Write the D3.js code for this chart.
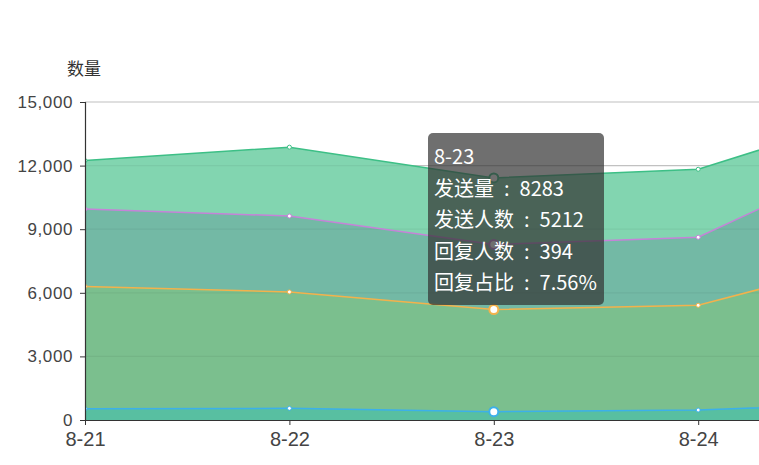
<!DOCTYPE html>
<html>
<head>
<meta charset="utf-8">
<script src="https://cdn.jsdelivr.net/npm/d3@7/dist/d3.min.js"></script>
<style>
html,body{margin:0;padding:0;background:#fff;}
svg{display:block;}
</style>
</head>
<body>
<svg id="chart" width="759" height="465"></svg>
<script>
const categories = ['8-21', '8-22', '8-23', '8-24', '8-25'];
const sendCount = [9950, 9620, 8283, 8620, 13100];      // 发送量
const sendPeople = [6300, 6040, 5212, 5410, 7940];      // 发送人数
const replyPeople = [530, 550, 394, 470, 830];          // 回复人数
const replyRate = [8.10, 8.52, 7.56, 7.83, 9.84];       // 回复占比 (%)
const yTicks = [0, 3000, 6000, 9000, 12000, 15000];
const hoverIndex = 2;

const svg = d3.select('#chart');
const W = 759, H = 465;
const gLeft = 85, gTop = 102, gBottom = 420;
const step = 204.4;

const x = d3.scalePoint().domain(categories).range([gLeft, gLeft + step * (categories.length - 1)]);
const y = d3.scaleLinear().domain([0, 15000]).range([gBottom, gTop]);
const yPct = d3.scaleLinear().domain([0, 9.93]).range([gBottom, gTop]);

svg.append('defs').append('clipPath').attr('id', 'clip')
  .append('rect').attr('x', gLeft).attr('y', 0).attr('width', W - gLeft).attr('height', gBottom);

// grid lines (beneath)
const grid = svg.append('g');
grid.selectAll('line').data(yTicks.filter(d => d > 0)).join('line')
  .attr('x1', gLeft).attr('x2', W).attr('y1', d => y(d)).attr('y2', d => y(d))
  .attr('stroke', '#cccccc').attr('stroke-width', 1.2);

const series = [
  {name: '回复占比', vals: replyRate, scale: yPct, line: '#3dbf86', fill: '#82d5b0'},
  {name: '发送量', vals: sendCount, scale: y, line: '#c583d8', fill: '#73b9a5'},
  {name: '发送人数', vals: sendPeople, scale: y, line: '#f3b24c', fill: '#7bbf8e'},
  {name: '回复人数', vals: replyPeople, scale: y, line: '#3cb0ea', fill: '#58bfa1'}
];

const plot = svg.append('g').attr('clip-path', 'url(#clip)');
series.forEach(s => {
  const area = d3.area().x((d, i) => x(categories[i])).y0(gBottom).y1(d => s.scale(d));
  plot.append('path').datum(s.vals).attr('d', area).attr('fill', s.fill);
});
// faint grid overlay through areas
plot.selectAll('line.gov').data(yTicks.filter(d => d > 0)).join('line').attr('class', 'gov')
  .attr('x1', gLeft).attr('x2', W).attr('y1', d => y(d)).attr('y2', d => y(d))
  .attr('stroke', 'rgba(0,0,0,0.05)').attr('stroke-width', 1.2);

series.forEach(s => {
  const line = d3.line().x((d, i) => x(categories[i])).y(d => s.scale(d));
  plot.append('path').datum(s.vals).attr('d', line).attr('fill', 'none')
    .attr('stroke', s.line).attr('stroke-width', 1.5);
});
series.forEach(s => {
  plot.selectAll(null).data(s.vals).join('circle')
    .attr('cx', (d, i) => x(categories[i])).attr('cy', d => s.scale(d))
    .attr('r', (d, i) => i === hoverIndex ? 4.5 : 2)
    .attr('fill', '#fff').attr('stroke', s.line)
    .attr('stroke-width', (d, i) => i === hoverIndex ? 2 : 1);
});

// Y axis
const yAxis = d3.axisLeft(y).tickValues(yTicks).tickFormat(d3.format(',')).tickSize(5).tickPadding(7);
const ya = svg.append('g').attr('transform', `translate(${gLeft},0)`).call(yAxis);
ya.select('.domain').attr('stroke', '#333').attr('stroke-width', 1.2);
ya.selectAll('.tick line').attr('stroke', '#333');
ya.selectAll('.tick text').attr('fill', '#444').style('font-family', '"Liberation Sans", Arial, sans-serif')
  .style('font-size', '17px').style('letter-spacing', '0.6px');

// X axis (only categories inside the visible window)
const visibleCats = categories.filter(c => x(c) <= W);
const xAxis = d3.axisBottom(x).tickValues(visibleCats).tickSize(5).tickPadding(7).tickSizeOuter(0);
const xa = svg.append('g').attr('transform', `translate(0,${gBottom})`).call(xAxis);
xa.select('.domain').attr('stroke', '#333').attr('stroke-width', 1.2);
xa.selectAll('.tick line').attr('stroke', '#333');
xa.selectAll('.tick text').attr('fill', '#444').style('font-family', '"Liberation Sans", Arial, sans-serif').style('font-size', '20px');

// axis name
svg.append('text').attr('x', 84).attr('y', 75).attr('text-anchor', 'middle')
  .attr('fill', '#333').style('font-family', '"Noto Sans CJK SC", sans-serif').style('font-size', '17px').text('数量');

// tooltip
const tip = svg.append('g');
tip.append('rect').attr('x', 428).attr('y', 133).attr('width', 176).attr('height', 172).attr('rx', 5)
  .attr('fill', 'rgba(50,50,50,0.7)');
const sep = '\u2002:\u2002';
const tipLines = [
  categories[hoverIndex],
  '发送量' + sep + sendCount[hoverIndex],
  '发送人数' + sep + sendPeople[hoverIndex],
  '回复人数' + sep + replyPeople[hoverIndex],
  '回复占比' + sep + replyRate[hoverIndex] + '%'
];
tip.selectAll('text').data(tipLines).join('text')
  .attr('x', 434).attr('y', (d, i) => 164 + i * 31.6)
  .attr('fill', '#fff').style('font-family', '"Noto Sans CJK SC", sans-serif').style('font-size', '20px')
  .style('white-space', 'pre')
  .text(d => d);
</script>
</body>
</html>
